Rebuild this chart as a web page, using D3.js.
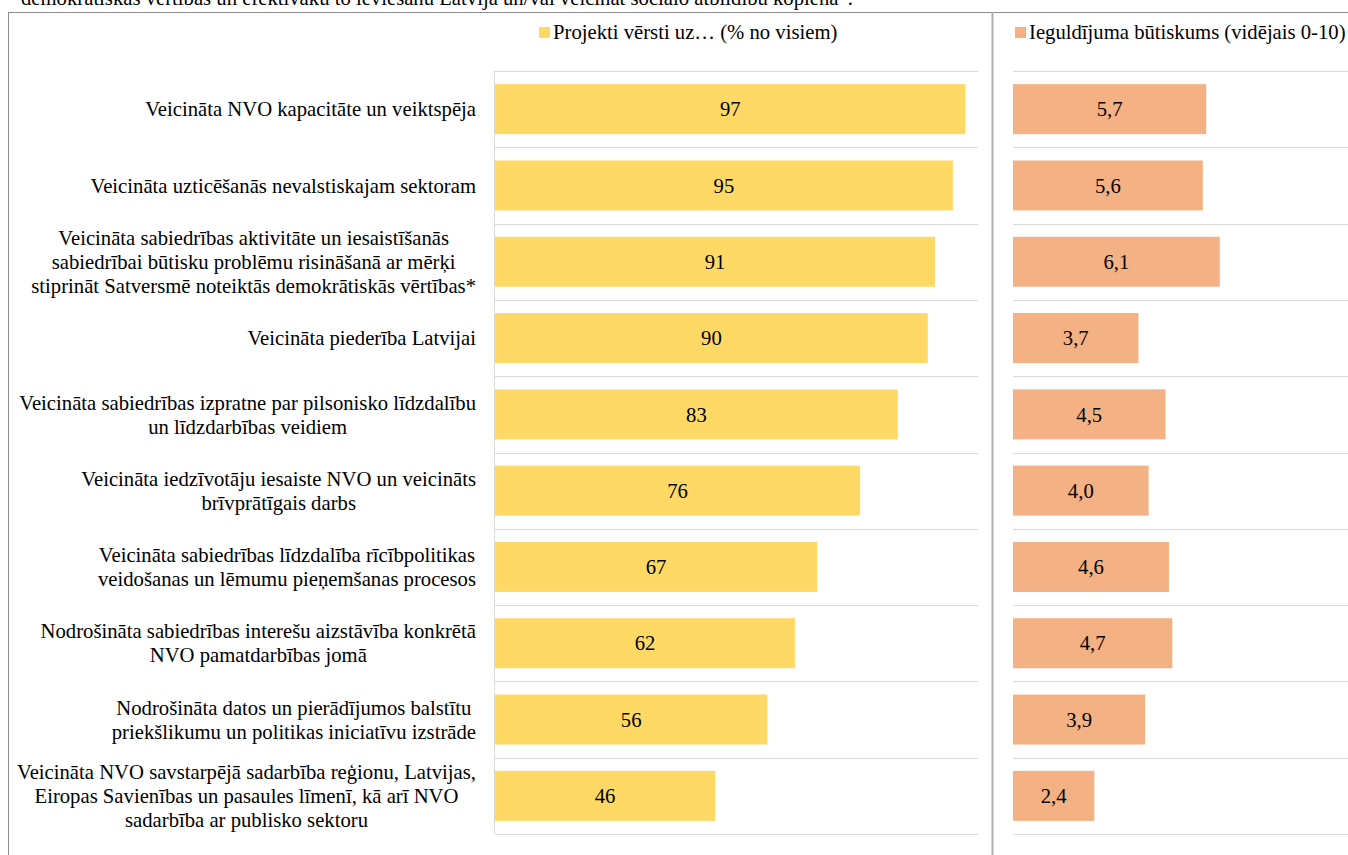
<!DOCTYPE html>
<html>
<head>
<meta charset="utf-8">
<script src="https://cdn.jsdelivr.net/npm/d3@7"></script>
<style>
  html, body { margin: 0; padding: 0; background: #fff; }
  text { font-family: "Liberation Serif", "DejaVu Serif", serif; }
</style>
</head>
<body>
<svg id="chart" width="1348" height="855"></svg>
<script>
// ---------- DATA ----------
const titleText = "demokrātiskās vērtības un efektīvāku to ieviešanu Latvijā un/vai veicināt sociālo atbildību kopienā”.";
const categories = [
  "Veicināta NVO kapacitāte un veiktspēja",
  "Veicināta uzticēšanās nevalstiskajam sektoram",
  "Veicināta sabiedrības aktivitāte un iesaistīšanās\nsabiedrībai būtisku problēmu risināšanā ar mērķi\nstiprināt Satversmē noteiktās demokrātiskās vērtības*",
  "Veicināta piederība Latvijai",
  "Veicināta sabiedrības izpratne par pilsonisko līdzdalību\nun līdzdarbības veidiem",
  "Veicināta iedzīvotāju iesaiste NVO un veicināts\nbrīvprātīgais darbs",
  "Veicināta sabiedrības līdzdalība rīcībpolitikas\nveidošanas un lēmumu pieņemšanas procesos",
  "Nodrošināta sabiedrības interešu aizstāvība konkrētā\nNVO pamatdarbības jomā",
  "Nodrošināta datos un pierādījumos balstītu\npriekšlikumu un politikas iniciatīvu izstrāde",
  "Veicināta NVO savstarpējā sadarbība reģionu, Latvijas,\nEiropas Savienības un pasaules līmenī, kā arī NVO\nsadarbība ar publisko sektoru"
];
const shareValues = [97.4, 94.8, 91.1, 89.6, 83.4, 75.6, 66.7, 62.1, 56.4, 45.6];
const importanceValues = [5.7, 5.6, 6.1, 3.7, 4.5, 4.0, 4.6, 4.7, 3.9, 2.4];
const seriesNames = ["Projekti vērsti uz… (% no visiem)", "Ieguldījuma būtiskums (vidējais 0-10)"];
const shareDomain = [0, 100];
const importanceDomain = [0, 10];

// ---------- STYLE ----------
const colShare = "#FFD966";
const colImp = "#F4B183";
const gridCol = "#d9d9d9";
const fontSize = 20.7;
const FONT = "Liberation Serif";

const svg = d3.select("#chart").attr("font-family", FONT);

// title fragment (cropped at top, as in the source)
svg.append("text").attr("x", 21).attr("y", 5).attr("font-family", FONT)
  .attr("font-size", fontSize).attr("fill", "#000").text(titleText);

// outer border
svg.append("rect").attr("x", 8.5).attr("y", 12.5).attr("width", 1400).attr("height", 900)
  .attr("fill", "none").attr("stroke", "#8c8c8c").attr("stroke-width", 1);
// divider
svg.append("line").attr("x1", 992.5).attr("x2", 992.5).attr("y1", 12).attr("y2", 855)
  .attr("stroke", "#b0b0b0").attr("stroke-width", 2);

// scales
const y = d3.scaleBand().domain(categories).range([71, 834]).paddingInner(0.345).paddingOuter(0.1725);
const x1 = d3.scaleLinear().domain(shareDomain).range([495, 978]);
const x2 = d3.scaleLinear().domain(importanceDomain).range([1013, 1352]);

const step = y.step();
const bounds = d3.range(categories.length + 1).map(i => y.range()[0] + i * step);

// gridlines
const grid = svg.append("g");
grid.selectAll("line.g1").data(bounds).join("line")
  .attr("x1", x1(0)).attr("x2", x1(shareDomain[1]))
  .attr("y1", d => Math.round(d) + 0.5).attr("y2", d => Math.round(d) + 0.5)
  .attr("stroke", gridCol).attr("stroke-width", 1);
grid.selectAll("line.g2").data(bounds).join("line")
  .attr("x1", x2(0)).attr("x2", 1348)
  .attr("y1", d => Math.round(d) + 0.5).attr("y2", d => Math.round(d) + 0.5)
  .attr("stroke", gridCol).attr("stroke-width", 1);
// left axis line
svg.append("line").attr("x1", x1(0) - 0.5).attr("x2", x1(0) - 0.5)
  .attr("y1", y.range()[0]).attr("y2", y.range()[1])
  .attr("stroke", gridCol).attr("stroke-width", 1);

// bars
const fmtInt = d3.format(".0f");
const lv = d3.formatLocale({decimal: ",", thousands: " ", grouping: [3], currency: ["", "€"]});
const fmtDec = lv.format(".1f");

svg.append("g").selectAll("rect").data(categories).join("rect")
  .attr("x", x1(0)).attr("y", d => y(d))
  .attr("width", (d, i) => x1(shareValues[i]) - x1(0)).attr("height", y.bandwidth())
  .attr("fill", colShare);
svg.append("g").selectAll("text").data(categories).join("text")
  .attr("x", (d, i) => (x1(0) + x1(shareValues[i])) / 2)
  .attr("y", d => y(d) + y.bandwidth() / 2).attr("dy", "0.35em")
  .attr("text-anchor", "middle").attr("font-family", FONT).attr("font-size", fontSize).attr("fill", "#000")
  .text((d, i) => fmtInt(shareValues[i]));

svg.append("g").selectAll("rect").data(categories).join("rect")
  .attr("x", x2(0)).attr("y", d => y(d))
  .attr("width", (d, i) => x2(importanceValues[i]) - x2(0)).attr("height", y.bandwidth())
  .attr("fill", colImp);
svg.append("g").selectAll("text").data(categories).join("text")
  .attr("x", (d, i) => (x2(0) + x2(importanceValues[i])) / 2)
  .attr("y", d => y(d) + y.bandwidth() / 2).attr("dy", "0.35em")
  .attr("text-anchor", "middle").attr("font-family", FONT).attr("font-size", fontSize).attr("fill", "#000")
  .text((d, i) => fmtDec(importanceValues[i]));

// category labels (block right-aligned, lines centred)
const labelRight = 476;
const lineH = 24;
const lab = svg.append("g");
categories.forEach(c => {
  const lines = c.split("\n");
  const t = lab.append("text").attr("text-anchor", "middle")
    .attr("font-family", FONT).attr("font-size", fontSize).attr("fill", "#000");
  const cy = y(c) + y.bandwidth() / 2;
  const ts = lines.map((l, i) => t.append("tspan")
    .attr("y", cy + (i - (lines.length - 1) / 2) * lineH).attr("dy", "0.35em").text(l));
  const maxW = d3.max(ts, s => s.node().getComputedTextLength());
  ts.forEach(s => s.attr("x", labelRight - maxW / 2));
});

// legends
const legends = [[539, colShare, seriesNames[0]], [1015, colImp, seriesNames[1]]];
legends.forEach(([lx, col, name]) => {
  svg.append("rect").attr("x", lx).attr("y", 27).attr("width", 11).attr("height", 11).attr("fill", col);
  svg.append("text").attr("x", lx + 14).attr("y", 39).attr("font-family", FONT)
    .attr("font-size", fontSize).attr("fill", "#000").text(name);
});
</script>
</body>
</html>
